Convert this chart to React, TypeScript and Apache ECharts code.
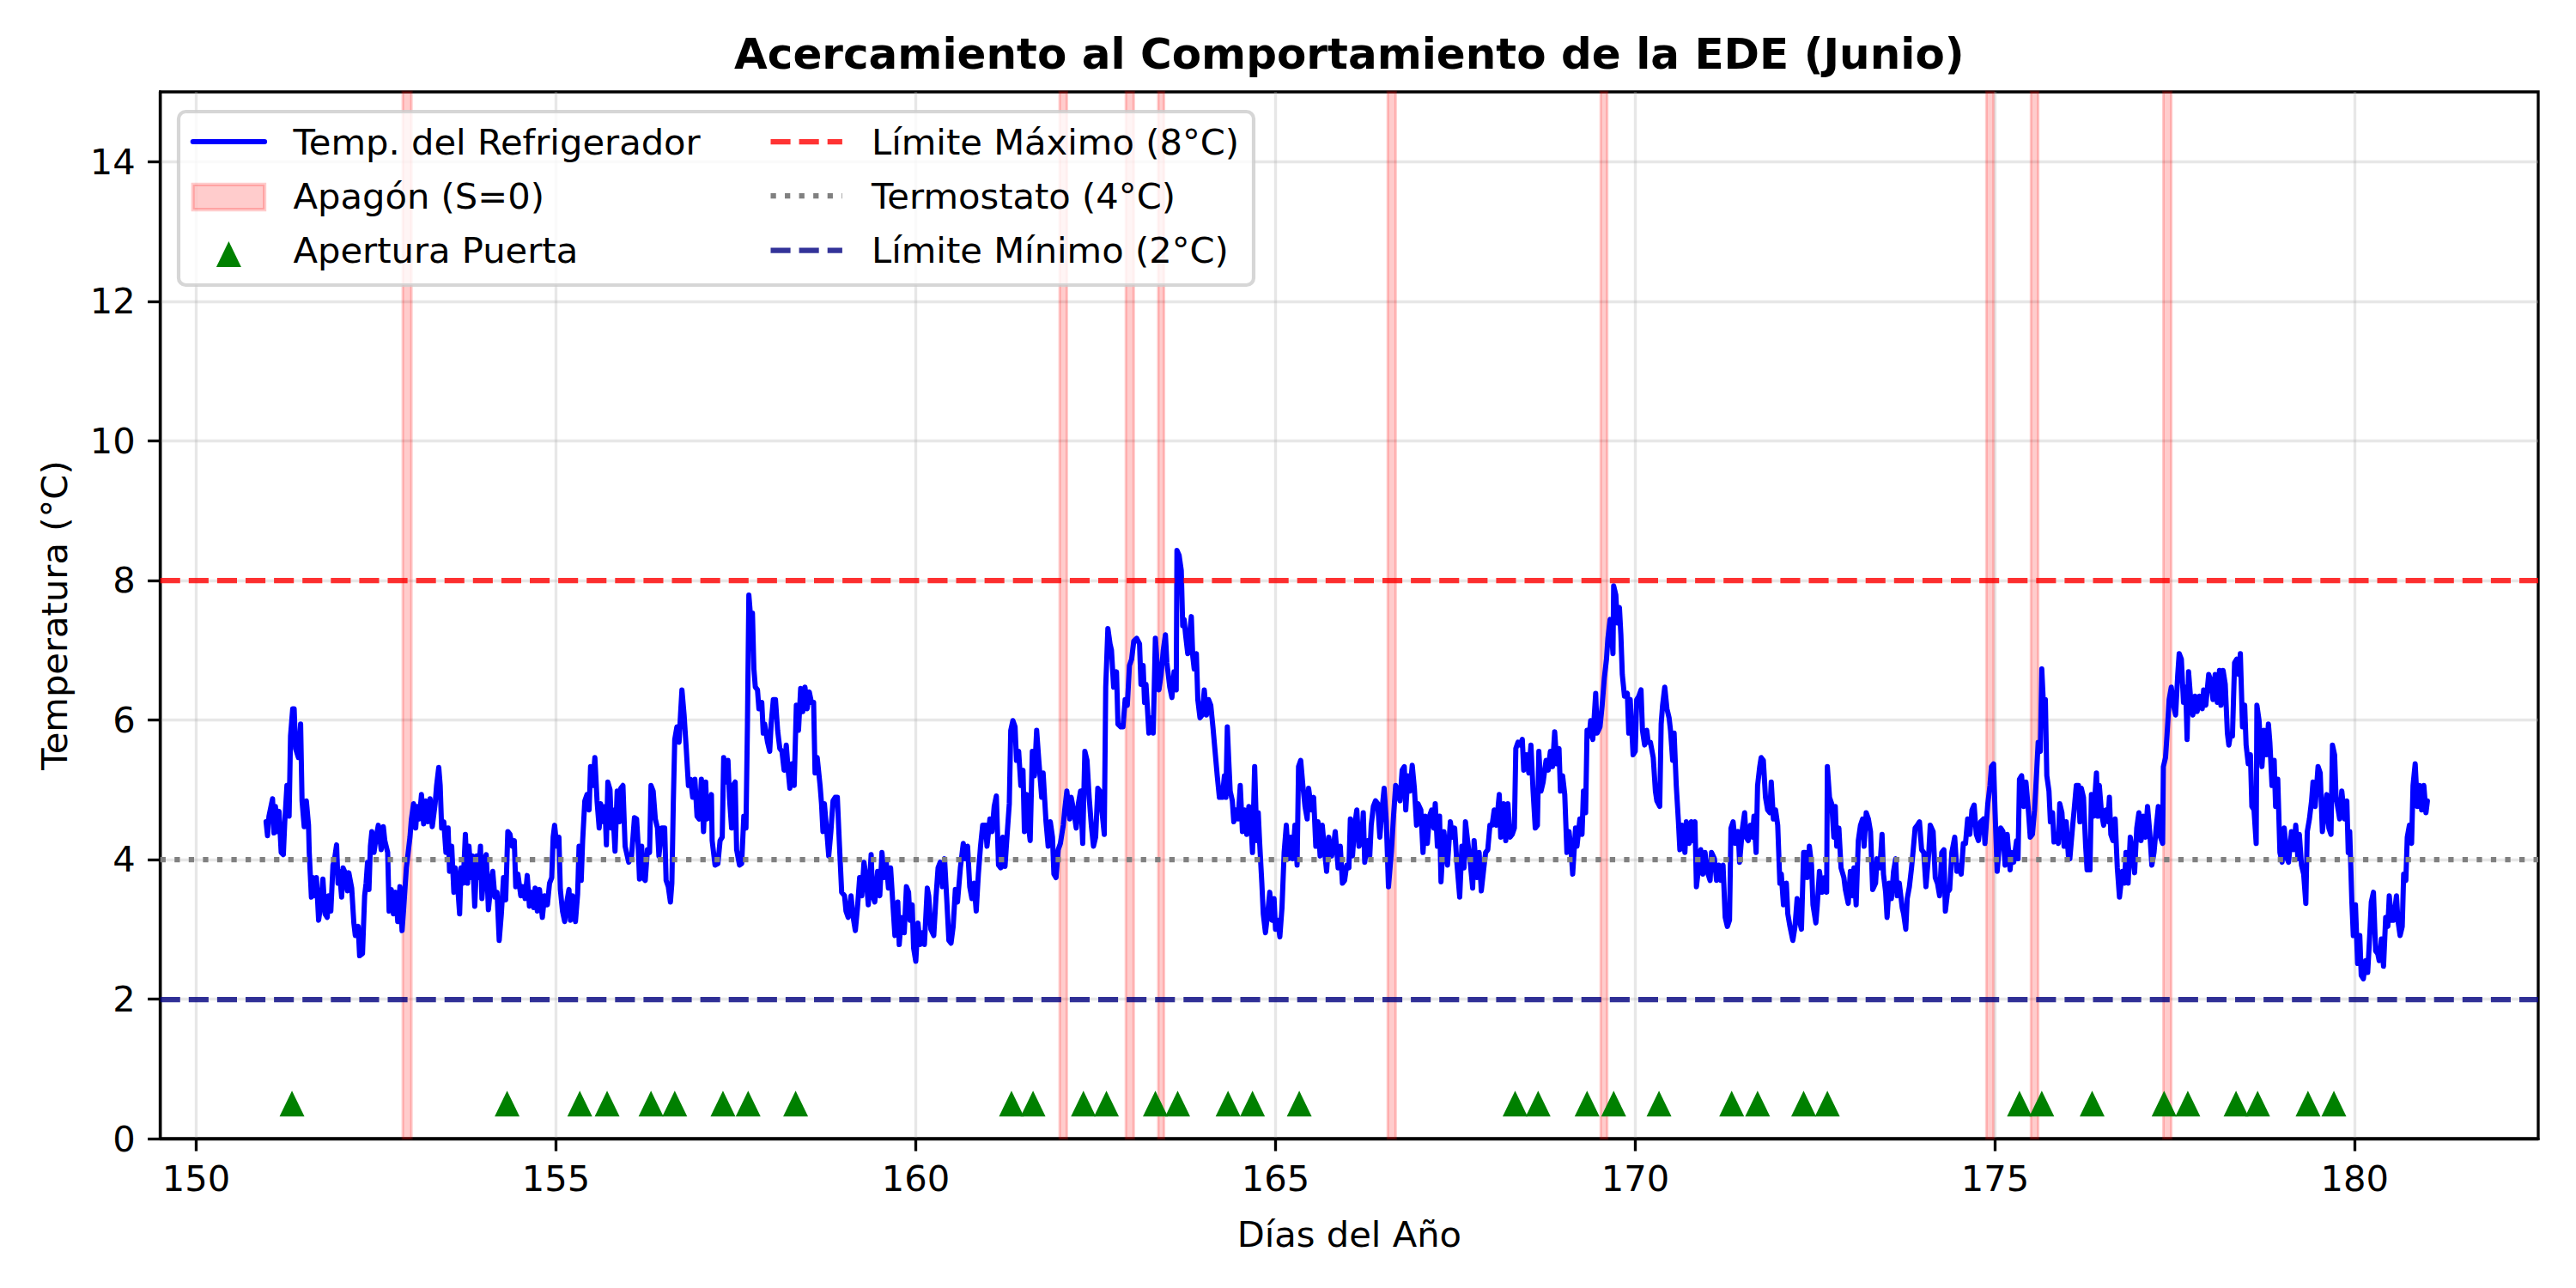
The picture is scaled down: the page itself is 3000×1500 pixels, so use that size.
import React, { useEffect, useRef } from "react";
import * as echarts from "echarts";

const TITLE = "Acercamiento al Comportamiento de la EDE (Junio)";
const X_LABEL = "Días del Año";
const Y_LABEL = "Temperatura (°C)";
const X_TICKS = [150, 155, 160, 165, 170, 175, 180];
const Y_TICKS = [0, 2, 4, 6, 8, 10, 12, 14];
const X_RANGE = [149.5, 182.55];
const Y_RANGE = [0, 15];

const LIMIT_MAX = 8;
const THERMOSTAT = 4;
const LIMIT_MIN = 2;

const SERIES_NAMES = [
  "Temp. del Refrigerador",
  "Apagón (S=0)",
  "Apertura Puerta",
  "Límite Máximo (8°C)",
  "Termostato (4°C)",
  "Límite Mínimo (2°C)",
];

const BLACKOUT_START = [152.87, 162.0, 162.92, 163.37, 166.56, 169.52, 174.88, 175.5, 177.34];
const BLACKOUT_END = [152.99, 162.1, 163.03, 163.45, 166.67, 169.61, 174.98, 175.6, 177.45];

const DOOR_DAYS = [
  151.33, 154.32, 155.33, 155.71, 156.32, 156.65, 157.32, 157.67, 158.33, 161.33, 161.63, 162.33,
  162.65, 163.33, 163.64, 164.34, 164.68, 165.33, 168.33, 168.65, 169.33, 169.7, 170.33, 171.34,
  171.7, 172.34, 172.67, 175.34, 175.65, 176.35, 177.35, 177.68, 178.35, 178.65, 179.35, 179.71,
];
const DOOR_Y = 0.5;

const TEMP_READINGS: [number, number][] = [
  [150.97, 4.54], [150.99, 4.34], [151.01, 4.62], [151.06, 4.87], [151.08, 4.38], [151.1, 4.76],
  [151.12, 4.4], [151.15, 4.69], [151.18, 4.1], [151.21, 4.07], [151.23, 4.54], [151.26, 5.06],
  [151.29, 4.62], [151.31, 5.77], [151.34, 6.16], [151.36, 6.16], [151.38, 5.59], [151.42, 5.46],
  [151.45, 5.94], [151.47, 4.84], [151.5, 4.47], [151.53, 4.84], [151.56, 4.49], [151.57, 4.1],
  [151.6, 3.46], [151.62, 3.74], [151.65, 3.48], [151.67, 3.74], [151.7, 3.13], [151.73, 3.35],
  [151.76, 3.72], [151.79, 3.22], [151.82, 3.17], [151.84, 3.48], [151.87, 3.26], [151.9, 3.92],
  [151.92, 3.99], [151.95, 4.21], [151.97, 3.66], [151.99, 3.83], [152.02, 3.46], [152.04, 3.88],
  [152.07, 3.81], [152.1, 3.55], [152.12, 3.81], [152.16, 3.59], [152.19, 3.09], [152.21, 2.91],
  [152.25, 3.04], [152.27, 2.62], [152.31, 2.65], [152.34, 3.48], [152.36, 3.66], [152.38, 3.96],
  [152.4, 3.57], [152.42, 4.19], [152.44, 4.4], [152.47, 4.1], [152.5, 4.32], [152.53, 4.49],
  [152.57, 4.14], [152.6, 4.47], [152.62, 4.27], [152.66, 4.1], [152.68, 3.26], [152.71, 3.57],
  [152.74, 3.22], [152.77, 3.53], [152.8, 3.11], [152.83, 3.61], [152.86, 2.98], [152.88, 3.26],
  [152.92, 3.88], [152.97, 4.32], [152.99, 4.58], [153.02, 4.8], [153.05, 4.45], [153.07, 4.76],
  [153.1, 4.58], [153.13, 4.93], [153.16, 4.51], [153.19, 4.84], [153.22, 4.54], [153.25, 4.87],
  [153.28, 4.47], [153.32, 4.8], [153.34, 5.06], [153.37, 5.32], [153.39, 5.06], [153.41, 4.45],
  [153.44, 4.54], [153.47, 4.1], [153.5, 4.45], [153.52, 3.83], [153.55, 4.19], [153.58, 3.53],
  [153.6, 3.88], [153.63, 3.66], [153.66, 3.22], [153.68, 3.88], [153.71, 3.66], [153.74, 4.36],
  [153.77, 3.66], [153.79, 4.19], [153.82, 3.74], [153.84, 4.05], [153.87, 3.33], [153.9, 4.05],
  [153.92, 3.74], [153.95, 4.19], [153.97, 3.44], [154.01, 4.01], [154.03, 4.07], [154.06, 3.28],
  [154.1, 3.7], [154.12, 3.83], [154.15, 3.46], [154.18, 3.53], [154.21, 2.84], [154.24, 3.22],
  [154.27, 3.74], [154.3, 3.42], [154.33, 4.4], [154.36, 4.36], [154.39, 4.19], [154.42, 4.27],
  [154.44, 3.61], [154.47, 3.79], [154.51, 3.48], [154.54, 3.61], [154.57, 3.44], [154.6, 3.77],
  [154.63, 3.33], [154.66, 3.53], [154.69, 3.31], [154.71, 3.59], [154.74, 3.26], [154.77, 3.57],
  [154.81, 3.17], [154.84, 3.48], [154.88, 3.35], [154.91, 3.66], [154.94, 3.74], [154.96, 4.32],
  [154.98, 4.49], [155.01, 4.19], [155.04, 4.32], [155.06, 3.57], [155.09, 3.26], [155.12, 3.11],
  [155.15, 3.39], [155.18, 3.57], [155.2, 3.13], [155.23, 3.48], [155.27, 3.11], [155.3, 3.5],
  [155.32, 4.19], [155.35, 3.7], [155.37, 4.27], [155.4, 4.84], [155.43, 4.93], [155.46, 4.71],
  [155.48, 5.33], [155.51, 5.06], [155.54, 5.46], [155.57, 4.84], [155.6, 4.45], [155.62, 4.8],
  [155.66, 4.54], [155.68, 4.76], [155.7, 4.21], [155.72, 5.11], [155.75, 5.0], [155.77, 4.45],
  [155.79, 4.71], [155.82, 4.12], [155.85, 4.98], [155.88, 4.54], [155.9, 5.02], [155.93, 5.06],
  [155.96, 4.19], [156.01, 3.96], [156.05, 4.05], [156.09, 4.6], [156.12, 4.58], [156.14, 4.23],
  [156.16, 3.72], [156.19, 4.19], [156.21, 3.74], [156.24, 3.7], [156.27, 4.14], [156.3, 4.1],
  [156.32, 5.06], [156.35, 4.98], [156.38, 4.58], [156.41, 4.45], [156.43, 4.05], [156.47, 4.45],
  [156.51, 4.45], [156.53, 3.7], [156.56, 3.61], [156.59, 3.39], [156.61, 3.66], [156.63, 4.8],
  [156.65, 5.72], [156.68, 5.9], [156.71, 5.68], [156.73, 6.07], [156.75, 6.43], [156.78, 6.07],
  [156.81, 5.59], [156.84, 5.06], [156.87, 5.15], [156.9, 4.89], [156.93, 5.15], [156.96, 4.62],
  [156.99, 4.58], [157.02, 5.15], [157.05, 4.4], [157.08, 5.11], [157.1, 4.58], [157.12, 4.71],
  [157.16, 4.93], [157.17, 4.27], [157.21, 3.92], [157.25, 3.94], [157.28, 4.27], [157.31, 4.32],
  [157.33, 5.46], [157.36, 5.11], [157.39, 5.42], [157.41, 4.89], [157.44, 4.45], [157.46, 5.06],
  [157.49, 5.11], [157.51, 4.14], [157.55, 3.92], [157.58, 3.94], [157.61, 4.62], [157.64, 4.45],
  [157.66, 5.9], [157.68, 7.79], [157.7, 7.53], [157.73, 7.53], [157.75, 6.73], [157.77, 6.47],
  [157.8, 6.43], [157.82, 6.16], [157.86, 6.25], [157.88, 5.81], [157.9, 5.94], [157.94, 5.68],
  [157.97, 5.55], [157.99, 5.94], [158.02, 6.29], [158.05, 6.29], [158.08, 5.85], [158.11, 5.59],
  [158.14, 5.55], [158.17, 5.28], [158.2, 5.64], [158.23, 5.24], [158.25, 5.02], [158.28, 5.37],
  [158.31, 5.06], [158.34, 6.21], [158.37, 5.85], [158.4, 6.45], [158.43, 6.12], [158.46, 6.47],
  [158.49, 6.16], [158.52, 6.4], [158.55, 6.25], [158.58, 6.25], [158.6, 5.24], [158.63, 5.46],
  [158.67, 5.06], [158.69, 4.8], [158.71, 4.4], [158.73, 4.8], [158.77, 4.32], [158.79, 4.05],
  [158.82, 4.4], [158.85, 4.84], [158.88, 4.89], [158.91, 4.89], [158.94, 4.19], [158.97, 3.53],
  [159.01, 3.48], [159.03, 3.26], [159.06, 3.17], [159.1, 3.48], [159.13, 3.17], [159.16, 2.98],
  [159.19, 3.31], [159.22, 3.74], [159.25, 3.48], [159.28, 3.96], [159.31, 3.74], [159.34, 3.35],
  [159.38, 4.07], [159.4, 3.48], [159.43, 3.39], [159.47, 3.83], [159.5, 3.48], [159.53, 4.1],
  [159.56, 3.74], [159.59, 3.96], [159.62, 3.59], [159.65, 3.88], [159.68, 3.39], [159.71, 2.91],
  [159.75, 3.39], [159.77, 2.78], [159.8, 3.17], [159.84, 2.95], [159.87, 3.61], [159.9, 3.53],
  [159.92, 3.13], [159.95, 3.35], [159.97, 2.73], [160.0, 2.54], [160.03, 3.09], [160.06, 2.78],
  [160.09, 2.95], [160.12, 2.78], [160.16, 3.59], [160.18, 3.48], [160.21, 3.0], [160.25, 2.91],
  [160.28, 3.44], [160.31, 3.88], [160.34, 3.96], [160.37, 3.61], [160.4, 4.01], [160.43, 3.44],
  [160.46, 2.84], [160.49, 2.8], [160.52, 3.04], [160.55, 3.57], [160.58, 3.39], [160.62, 3.88],
  [160.66, 4.23], [160.69, 4.01], [160.72, 4.19], [160.75, 3.61], [160.78, 3.44], [160.81, 3.66],
  [160.84, 3.26], [160.87, 3.79], [160.9, 4.19], [160.93, 4.49], [160.97, 4.49], [160.99, 4.19],
  [161.03, 4.58], [161.06, 4.4], [161.09, 4.76], [161.12, 4.91], [161.15, 3.92], [161.18, 3.88],
  [161.21, 4.32], [161.24, 3.9], [161.27, 4.36], [161.3, 4.8], [161.32, 5.85], [161.35, 5.99],
  [161.38, 5.9], [161.4, 5.42], [161.43, 5.55], [161.46, 5.06], [161.49, 5.28], [161.51, 4.4],
  [161.54, 4.93], [161.57, 4.45], [161.59, 4.27], [161.62, 5.55], [161.65, 5.2], [161.68, 5.85],
  [161.71, 5.42], [161.75, 4.89], [161.77, 5.24], [161.81, 4.54], [161.84, 4.19], [161.87, 4.54],
  [161.9, 4.32], [161.92, 3.79], [161.95, 3.74], [161.98, 4.14], [162.01, 4.23], [162.05, 4.49],
  [162.07, 4.71], [162.1, 4.98], [162.14, 4.58], [162.16, 4.89], [162.2, 4.67], [162.23, 4.45],
  [162.26, 4.8], [162.29, 4.98], [162.32, 4.23], [162.35, 5.55], [162.38, 5.42], [162.41, 4.89],
  [162.44, 4.49], [162.47, 4.19], [162.5, 4.32], [162.53, 5.02], [162.56, 4.98], [162.59, 4.67],
  [162.62, 4.36], [162.64, 6.47], [162.67, 7.31], [162.7, 7.09], [162.72, 7.0], [162.75, 6.47],
  [162.79, 6.69], [162.81, 5.94], [162.85, 5.9], [162.88, 5.9], [162.91, 6.29], [162.94, 6.21],
  [162.97, 6.78], [163.0, 6.87], [163.03, 7.13], [163.07, 7.17], [163.11, 7.09], [163.13, 6.51],
  [163.16, 6.78], [163.18, 6.25], [163.2, 6.51], [163.24, 5.81], [163.27, 6.03], [163.3, 5.81],
  [163.33, 7.17], [163.35, 6.87], [163.38, 6.43], [163.41, 6.65], [163.44, 7.0], [163.47, 7.22],
  [163.49, 6.82], [163.53, 6.47], [163.56, 6.32], [163.59, 6.69], [163.62, 6.43], [163.63, 8.43],
  [163.66, 8.36], [163.69, 8.14], [163.71, 7.35], [163.73, 7.44], [163.75, 7.22], [163.78, 6.95],
  [163.8, 7.17], [163.83, 7.48], [163.85, 6.91], [163.87, 6.73], [163.9, 6.95], [163.92, 6.29],
  [163.95, 6.03], [163.98, 6.07], [164.01, 6.43], [164.04, 6.07], [164.07, 6.29], [164.1, 6.21],
  [164.13, 5.9], [164.16, 5.55], [164.19, 5.2], [164.22, 4.89], [164.26, 4.89], [164.29, 5.2],
  [164.31, 4.89], [164.33, 5.9], [164.35, 5.42], [164.37, 4.98], [164.4, 4.84], [164.42, 4.54],
  [164.45, 4.71], [164.48, 4.58], [164.51, 5.06], [164.54, 4.4], [164.57, 4.71], [164.6, 4.36],
  [164.63, 4.76], [164.66, 4.49], [164.68, 4.1], [164.71, 5.33], [164.74, 4.27], [164.76, 4.67],
  [164.78, 4.23], [164.81, 3.66], [164.83, 3.22], [164.86, 2.95], [164.89, 3.22], [164.92, 3.53],
  [164.95, 3.13], [164.98, 3.44], [165.0, 3.0], [165.03, 3.13], [165.06, 2.89], [165.09, 3.31],
  [165.12, 4.1], [165.15, 4.49], [165.18, 4.01], [165.21, 4.32], [165.24, 4.01], [165.27, 4.49],
  [165.3, 3.92], [165.32, 5.33], [165.35, 5.42], [165.38, 5.06], [165.41, 4.76], [165.44, 4.58],
  [165.46, 5.02], [165.5, 4.71], [165.53, 4.89], [165.56, 4.19], [165.59, 4.54], [165.62, 4.05],
  [165.65, 4.49], [165.68, 4.14], [165.71, 3.83], [165.74, 4.32], [165.78, 4.05], [165.81, 4.23],
  [165.83, 4.4], [165.87, 3.88], [165.9, 4.19], [165.93, 3.66], [165.96, 3.7], [165.99, 3.92],
  [166.02, 3.88], [166.04, 4.58], [166.07, 4.05], [166.1, 4.49], [166.13, 4.71], [166.16, 4.19],
  [166.2, 4.32], [166.22, 4.67], [166.24, 3.96], [166.28, 4.27], [166.31, 4.05], [166.33, 4.49],
  [166.36, 4.76], [166.39, 4.84], [166.42, 4.8], [166.45, 4.32], [166.48, 4.71], [166.51, 5.02],
  [166.54, 4.54], [166.57, 3.61], [166.61, 4.1], [166.64, 4.62], [166.67, 5.06], [166.7, 4.98],
  [166.73, 4.84], [166.76, 5.28], [166.79, 5.33], [166.81, 4.71], [166.84, 5.2], [166.87, 4.98],
  [166.9, 5.35], [166.93, 5.02], [166.96, 4.49], [166.98, 4.8], [167.02, 4.71], [167.05, 4.1],
  [167.08, 4.62], [167.11, 4.23], [167.14, 4.62], [167.17, 4.71], [167.2, 4.45], [167.22, 4.8],
  [167.25, 4.19], [167.28, 4.62], [167.3, 3.68], [167.34, 4.4], [167.37, 4.1], [167.39, 3.92],
  [167.43, 4.54], [167.46, 4.32], [167.49, 4.45], [167.52, 3.96], [167.56, 3.46], [167.59, 4.19],
  [167.62, 3.88], [167.64, 4.54], [167.67, 4.27], [167.71, 3.92], [167.74, 3.59], [167.76, 4.27],
  [167.8, 3.74], [167.83, 4.1], [167.86, 3.55], [167.89, 3.83], [167.92, 4.1], [167.95, 4.14],
  [167.98, 4.49], [168.01, 4.49], [168.04, 4.71], [168.07, 4.49], [168.11, 4.93], [168.13, 4.32],
  [168.17, 4.8], [168.2, 4.27], [168.23, 4.8], [168.26, 4.32], [168.29, 4.36], [168.32, 4.45],
  [168.34, 5.59], [168.37, 5.68], [168.4, 5.64], [168.43, 5.72], [168.45, 5.28], [168.49, 5.5],
  [168.52, 5.24], [168.55, 5.64], [168.58, 4.98], [168.61, 4.45], [168.64, 4.49], [168.66, 5.55],
  [168.69, 4.98], [168.72, 5.11], [168.76, 5.42], [168.79, 5.28], [168.82, 5.55], [168.85, 5.33],
  [168.88, 5.83], [168.91, 5.37], [168.94, 5.59], [168.96, 4.98], [168.99, 5.2], [169.02, 4.93],
  [169.05, 4.1], [169.08, 4.4], [169.11, 4.1], [169.13, 3.79], [169.17, 4.45], [169.19, 4.19],
  [169.23, 4.58], [169.26, 4.36], [169.28, 4.98], [169.31, 4.67], [169.33, 5.85], [169.36, 5.77],
  [169.38, 5.99], [169.41, 5.72], [169.45, 6.38], [169.47, 5.81], [169.51, 5.9], [169.54, 6.21],
  [169.57, 6.6], [169.6, 6.87], [169.62, 7.17], [169.65, 7.44], [169.67, 7.26], [169.69, 6.95],
  [169.7, 7.92], [169.73, 7.79], [169.75, 7.39], [169.78, 7.61], [169.8, 7.22], [169.82, 6.65],
  [169.85, 6.34], [169.89, 6.38], [169.91, 5.81], [169.93, 6.29], [169.97, 5.5], [170.0, 5.55],
  [170.02, 6.29], [170.05, 6.34], [170.08, 6.43], [170.1, 5.85], [170.13, 5.64], [170.16, 5.85],
  [170.18, 5.68], [170.21, 5.68], [170.25, 5.46], [170.28, 4.98], [170.3, 4.84], [170.34, 4.76],
  [170.36, 5.94], [170.38, 6.21], [170.41, 6.47], [170.44, 6.16], [170.47, 6.03], [170.49, 5.85],
  [170.52, 5.42], [170.54, 5.81], [170.57, 5.06], [170.6, 4.54], [170.62, 4.14], [170.65, 4.49],
  [170.69, 4.1], [170.71, 4.54], [170.75, 4.23], [170.78, 4.54], [170.8, 4.27], [170.83, 4.54],
  [170.85, 3.61], [170.88, 3.88], [170.91, 4.14], [170.94, 3.79], [170.97, 4.1], [171.0, 3.83],
  [171.04, 3.7], [171.06, 4.1], [171.1, 4.01], [171.13, 3.7], [171.16, 3.92], [171.19, 3.7],
  [171.22, 3.92], [171.25, 3.17], [171.28, 3.04], [171.31, 3.13], [171.33, 4.45], [171.36, 4.54],
  [171.39, 4.23], [171.43, 4.4], [171.45, 3.96], [171.49, 4.45], [171.52, 4.67], [171.54, 4.32],
  [171.57, 4.27], [171.6, 4.49], [171.63, 4.32], [171.65, 4.62], [171.68, 4.1], [171.7, 5.06],
  [171.73, 5.33], [171.75, 5.46], [171.78, 5.42], [171.81, 4.89], [171.84, 4.71], [171.87, 4.67],
  [171.89, 5.11], [171.92, 4.58], [171.95, 4.71], [171.98, 4.49], [172.01, 3.66], [172.03, 3.79],
  [172.06, 3.35], [172.1, 3.66], [172.12, 3.22], [172.15, 3.04], [172.19, 2.84], [172.22, 3.04],
  [172.25, 3.44], [172.28, 3.13], [172.31, 3.0], [172.34, 4.1], [172.36, 4.1], [172.39, 3.74],
  [172.42, 4.19], [172.45, 3.92], [172.47, 3.35], [172.51, 3.09], [172.53, 3.35], [172.56, 3.83],
  [172.6, 3.53], [172.63, 3.74], [172.66, 3.53], [172.67, 5.33], [172.7, 4.89], [172.73, 4.8],
  [172.76, 4.32], [172.78, 4.76], [172.8, 4.19], [172.83, 4.45], [172.86, 3.88], [172.9, 3.74],
  [172.92, 3.57], [172.96, 3.37], [172.99, 3.83], [173.02, 3.48], [173.04, 3.88], [173.07, 3.35],
  [173.1, 4.27], [173.13, 4.49], [173.16, 4.58], [173.18, 4.19], [173.21, 4.67], [173.24, 4.58],
  [173.27, 4.4], [173.3, 3.57], [173.34, 3.66], [173.36, 4.01], [173.4, 3.88], [173.43, 4.36],
  [173.45, 3.79], [173.48, 3.53], [173.5, 3.17], [173.53, 3.66], [173.56, 3.44], [173.59, 3.83],
  [173.62, 4.01], [173.64, 3.48], [173.67, 3.66], [173.71, 3.31], [173.73, 3.22], [173.76, 3.0],
  [173.78, 3.44], [173.81, 3.61], [173.84, 3.88], [173.86, 4.1], [173.89, 4.45], [173.92, 4.49],
  [173.95, 4.54], [173.98, 4.14], [174.01, 4.1], [174.04, 3.61], [174.08, 4.1], [174.1, 4.49],
  [174.14, 4.4], [174.17, 3.74], [174.2, 3.66], [174.23, 3.48], [174.26, 4.1], [174.29, 4.14],
  [174.31, 3.26], [174.34, 3.53], [174.37, 3.57], [174.4, 4.1], [174.44, 4.32], [174.47, 3.83],
  [174.49, 3.92], [174.53, 3.79], [174.56, 4.23], [174.59, 4.23], [174.62, 4.58], [174.65, 4.36],
  [174.68, 4.71], [174.71, 4.78], [174.74, 4.36], [174.77, 4.27], [174.8, 4.54], [174.84, 4.58],
  [174.86, 4.23], [174.9, 4.8], [174.93, 5.06], [174.95, 5.33], [174.98, 5.37], [175.0, 4.71],
  [175.03, 3.83], [175.08, 4.45], [175.11, 4.4], [175.14, 3.92], [175.17, 4.36], [175.21, 3.85],
  [175.23, 4.1], [175.26, 3.96], [175.3, 4.27], [175.32, 4.01], [175.34, 5.15], [175.37, 5.2],
  [175.4, 4.76], [175.43, 5.11], [175.46, 4.76], [175.49, 4.32], [175.52, 4.36], [175.55, 4.71],
  [175.58, 5.28], [175.6, 5.68], [175.63, 5.55], [175.65, 6.73], [175.67, 6.29], [175.7, 6.29],
  [175.72, 5.2], [175.75, 4.98], [175.77, 4.54], [175.8, 4.67], [175.82, 4.25], [175.85, 4.36],
  [175.88, 4.23], [175.9, 4.8], [175.93, 4.67], [175.96, 4.19], [175.99, 4.54], [176.02, 4.05],
  [176.04, 4.01], [176.08, 4.49], [176.1, 4.71], [176.13, 5.06], [176.16, 5.06], [176.18, 4.54],
  [176.2, 5.02], [176.23, 4.89], [176.26, 4.19], [176.28, 3.85], [176.32, 3.85], [176.34, 4.93],
  [176.37, 4.62], [176.41, 5.24], [176.43, 4.62], [176.45, 5.06], [176.48, 4.67], [176.51, 4.49],
  [176.54, 4.71], [176.57, 4.54], [176.59, 4.89], [176.61, 4.36], [176.64, 4.27], [176.67, 4.58],
  [176.7, 3.88], [176.73, 3.46], [176.77, 3.83], [176.8, 3.66], [176.82, 4.1], [176.85, 3.66],
  [176.88, 4.32], [176.91, 4.1], [176.94, 3.81], [176.97, 4.45], [177.0, 4.67], [177.03, 4.27],
  [177.06, 4.62], [177.09, 4.32], [177.12, 4.76], [177.15, 4.4], [177.18, 3.92], [177.21, 4.1],
  [177.24, 4.45], [177.27, 4.76], [177.3, 4.32], [177.33, 4.23], [177.34, 5.33], [177.37, 5.46],
  [177.39, 5.77], [177.42, 6.29], [177.45, 6.47], [177.48, 6.21], [177.51, 6.07], [177.54, 6.65],
  [177.56, 6.95], [177.59, 6.87], [177.62, 6.25], [177.65, 6.47], [177.67, 5.72], [177.69, 6.69],
  [177.72, 6.29], [177.75, 6.07], [177.78, 6.34], [177.81, 6.12], [177.84, 6.34], [177.88, 6.16],
  [177.9, 6.43], [177.93, 6.21], [177.97, 6.65], [178.0, 6.56], [178.03, 6.29], [178.06, 6.65],
  [178.09, 6.25], [178.12, 6.71], [178.14, 6.21], [178.17, 6.71], [178.2, 6.51], [178.23, 5.81],
  [178.25, 5.64], [178.27, 5.77], [178.3, 5.77], [178.33, 6.82], [178.36, 6.87], [178.39, 6.65],
  [178.41, 6.95], [178.44, 5.9], [178.47, 6.21], [178.49, 5.64], [178.52, 5.37], [178.55, 5.5],
  [178.57, 4.76], [178.6, 4.71], [178.63, 4.23], [178.64, 6.21], [178.67, 5.99], [178.71, 5.33],
  [178.74, 5.85], [178.77, 5.5], [178.8, 5.94], [178.82, 5.68], [178.85, 5.06], [178.88, 5.42],
  [178.9, 4.76], [178.93, 5.15], [178.96, 4.1], [178.99, 3.96], [179.02, 4.45], [179.06, 4.01],
  [179.08, 3.96], [179.12, 4.4], [179.15, 4.14], [179.18, 4.49], [179.21, 4.01], [179.23, 4.36],
  [179.26, 3.92], [179.29, 3.79], [179.32, 3.37], [179.34, 4.4], [179.37, 4.58], [179.4, 4.84],
  [179.42, 5.11], [179.45, 4.76], [179.49, 5.33], [179.52, 5.24], [179.55, 4.4], [179.58, 4.67],
  [179.61, 4.93], [179.64, 4.45], [179.67, 4.36], [179.69, 5.64], [179.72, 5.5], [179.74, 4.89],
  [179.77, 4.71], [179.79, 4.58], [179.82, 4.98], [179.86, 4.58], [179.89, 4.84], [179.91, 4.1],
  [179.93, 4.4], [179.96, 3.39], [179.98, 2.91], [180.01, 3.35], [180.04, 2.51], [180.07, 2.91],
  [180.09, 2.34], [180.12, 2.29], [180.15, 2.55], [180.18, 2.38], [180.21, 2.95], [180.23, 3.39],
  [180.26, 3.53], [180.29, 2.69], [180.32, 2.65], [180.34, 2.55], [180.37, 2.86], [180.4, 2.47],
  [180.43, 3.17], [180.46, 3.04], [180.48, 3.48], [180.51, 3.13], [180.54, 3.13], [180.58, 3.48],
  [180.6, 3.13], [180.63, 2.91], [180.66, 3.04], [180.68, 3.79], [180.71, 3.7], [180.73, 4.32],
  [180.76, 4.49], [180.79, 4.23], [180.81, 5.06], [180.84, 5.37], [180.87, 4.76], [180.9, 5.06],
  [180.93, 4.71], [180.96, 5.06], [180.99, 4.67], [181.01, 4.84],
];

export default function App() {
  const ref = useRef<HTMLDivElement>(null);

  useEffect(() => {
    if (!ref.current) return;
    const chart = echarts.init(ref.current, null, { renderer: "svg" });
    const FONT = "DejaVu Sans";
    const FS = 41.67;
    const LW = 3.33;
    const GRID_COLOR = "rgba(176,176,176,0.3)";
    const RED = "rgba(255,0,0,0.8)";
    const GRAY = "#808080";
    const NAVY = "rgba(0,0,128,0.8)";
    const DASH = [23.1, 10];
    const DOT = [6.25, 10.3];
    const SPAN_FILL = "rgba(255,0,0,0.2)";
    const TEMP_LW = 6;

    const gridLeft = 186.7;
    const gridRight = 44;
    const gridTop = 107;
    const gridBottom = 174;

    const legendText = (text: string, x: number, y: number) => ({
      type: "text",
      z: 11,
      style: { text, x, y, fill: "#000", font: `${FS}px "${FONT}"`, align: "left", verticalAlign: "middle" },
    });
    const legendLine = (x1: number, x2: number, y: number, stroke: string, width: number, dash?: number[]) => ({
      type: "line",
      z: 11,
      shape: { x1, y1: y, x2, y2: y },
      style: { stroke, lineWidth: width, lineDash: dash || null, lineCap: dash ? "butt" : "round" },
    });

    const c1h0 = 224.7, c1h1 = 308.1, c1t = 341.5;
    const c2h0 = 897.5, c2h1 = 980.9, c2t = 1015;
    const r1 = 165, r2 = 228, r3 = 291.5;
    const triCx = (c1h0 + c1h1) / 2;
    const triCy = 296;

    const option: any = {
      animation: false,
      backgroundColor: "#ffffff",
      textStyle: { fontFamily: FONT },
      title: {
        text: TITLE,
        left: gridLeft + (3000 - gridLeft - gridRight) / 2,
        top: 63,
        padding: 0,
        textAlign: "center",
        textVerticalAlign: "middle",
        textStyle: { fontSize: 50, fontWeight: "bold", color: "#000", fontFamily: FONT },
      },
      grid: {
        left: gridLeft,
        right: gridRight,
        top: gridTop,
        bottom: gridBottom,
        containLabel: false,
        outerBoundsMode: "none",
        show: true,
        borderColor: "#000",
        borderWidth: LW,
        backgroundColor: "transparent",
      },
      xAxis: {
        type: "value",
        min: X_RANGE[0],
        max: X_RANGE[1],
        name: X_LABEL,
        nameLocation: "middle",
        nameGap: 90,
        nameTextStyle: { fontSize: FS, color: "#000", fontFamily: FONT },
        axisLine: { show: true, onZero: false, lineStyle: { color: "#000", width: LW } },
        axisTick: { show: true, length: 14.6, lineStyle: { color: "#000", width: LW }, customValues: X_TICKS },
        axisLabel: { show: true, margin: 25.5, fontSize: FS, color: "#000", fontFamily: FONT, customValues: X_TICKS },
        splitLine: { show: true, lineStyle: { color: GRID_COLOR, width: LW } },
      },
      yAxis: {
        type: "value",
        min: Y_RANGE[0],
        max: Y_RANGE[1],
        interval: 2,
        name: Y_LABEL,
        nameLocation: "middle",
        nameGap: 102,
        nameRotate: 90,
        nameTextStyle: { fontSize: FS, color: "#000", fontFamily: FONT },
        axisLine: { show: true, onZero: false, lineStyle: { color: "#000", width: LW } },
        axisTick: { show: true, length: 14.6, lineStyle: { color: "#000", width: LW }, customValues: Y_TICKS },
        axisLabel: { show: true, margin: 29, fontSize: FS, color: "#000", fontFamily: FONT, customValues: Y_TICKS },
        splitLine: { show: true, lineStyle: { color: GRID_COLOR, width: LW } },
      },
      series: [
        {
          name: SERIES_NAMES[0],
          type: "line",
          data: TEMP_READINGS,
          showSymbol: false,
          symbol: "none",
          silent: true,
          z: 3,
          lineStyle: { color: "#0000ff", width: TEMP_LW, join: "round", cap: "round", opacity: 1 },
          itemStyle: { color: "#0000ff" },
          markArea: {
            silent: true,
            itemStyle: { color: SPAN_FILL, borderColor: SPAN_FILL, borderWidth: 3 },
            data: BLACKOUT_START.map((s, i) => [{ xAxis: s }, { xAxis: BLACKOUT_END[i] }]),
          },
          markLine: {
            silent: true,
            symbol: ["none", "none"],
            label: { show: false },
            data: [
              { yAxis: LIMIT_MAX, name: SERIES_NAMES[3], lineStyle: { color: RED, width: 6.25, type: DASH, cap: "butt" } },
              { yAxis: THERMOSTAT, name: SERIES_NAMES[4], lineStyle: { color: GRAY, width: 6.25, type: DOT, cap: "butt" } },
              { yAxis: LIMIT_MIN, name: SERIES_NAMES[5], lineStyle: { color: NAVY, width: 6.25, type: DASH, cap: "butt" } },
            ],
          },
        },
        {
          name: SERIES_NAMES[2],
          type: "scatter",
          data: DOOR_DAYS.map((d) => [d, DOOR_Y]),
          symbol: "triangle",
          symbolSize: [29, 30],
          silent: true,
          z: 6,
          itemStyle: { color: "#008000", opacity: 1 },
        },
      ],
      graphic: {
        elements: [
          {
            type: "rect",
            z: 10,
            shape: { x: 208, y: 130, width: 1252, height: 202, r: 8.3 },
            style: { fill: "rgba(255,255,255,0.8)", stroke: "rgba(204,204,204,0.8)", lineWidth: 4.17 },
          },
          legendLine(c1h0, c1h1, r1, "#0000ff", TEMP_LW),
          {
            type: "rect",
            z: 11,
            shape: { x: c1h0, y: 229.5 - 14.6, width: c1h1 - c1h0, height: 29.2 },
            style: { fill: SPAN_FILL, stroke: SPAN_FILL, lineWidth: 4.17 },
          },
          {
            type: "polygon",
            z: 11,
            shape: { points: [[triCx, triCy - 15], [triCx + 14.5, triCy + 15], [triCx - 14.5, triCy + 15]] },
            style: { fill: "#008000" },
          },
          legendText(SERIES_NAMES[0], c1t, r1),
          legendText(SERIES_NAMES[1], c1t, r2),
          legendText(SERIES_NAMES[2], c1t, r3),
          legendLine(c2h0, c2h1, r1, RED, 6.25, DASH),
          legendLine(c2h0, c2h1, r2, GRAY, 6.25, DOT),
          legendLine(c2h0, c2h1, r3, NAVY, 6.25, DASH),
          legendText(SERIES_NAMES[3], c2t, r1),
          legendText(SERIES_NAMES[4], c2t, r2),
          legendText(SERIES_NAMES[5], c2t, r3),
        ],
      },
    };

    chart.setOption(option);
    return () => chart.dispose();
  }, []);

  return (
    <div
      ref={ref}
      style={{ position: "absolute", left: 0, top: 0, width: 3000, height: 1500, background: "#ffffff" }}
    />
  );
}
